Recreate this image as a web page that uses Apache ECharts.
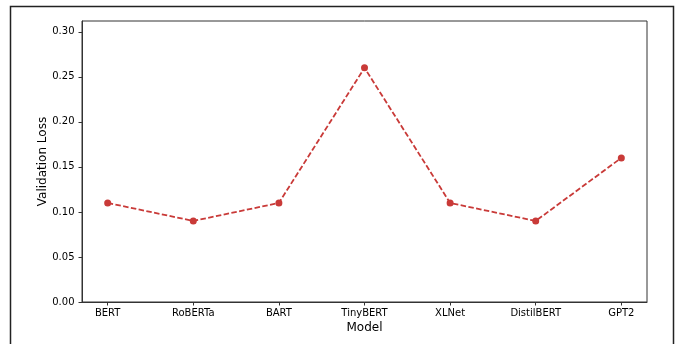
<!DOCTYPE html>
<html>
<head>
<meta charset="utf-8">
<script src="https://cdn.jsdelivr.net/npm/echarts@6/dist/echarts.min.js"></script>
<style>
html,body{margin:0;padding:0;background:#fff;}
#chart{width:678px;height:344px;}
</style>
</head>
<body>
<div id="chart"></div>
<script>
const categories = ['BERT', 'RoBERTa', 'BART', 'TinyBERT', 'XLNet', 'DistilBERT', 'GPT2'];
const validationLoss = [0.11, 0.09, 0.11, 0.26, 0.11, 0.09, 0.16];
const yTicks = [0, 0.05, 0.10, 0.15, 0.20, 0.25, 0.30];

const positions = categories.map((c, i) => i);
const data = validationLoss.map((v, i) => [i, v]);
const FONT = 'DejaVu Sans';
const axisColor = '#333';

const chart = echarts.init(document.getElementById('chart'), null, {renderer: 'canvas'});
chart.setOption({
  animation: false,
  backgroundColor: '#fff',
  textStyle: {fontFamily: FONT},
  graphic: [{
    type: 'rect',
    shape: {x: 10.5, y: 6.5, width: 663, height: 400},
    style: {fill: 'none', stroke: '#222', lineWidth: 1.5},
    silent: true, z: 100
  }],
  grid: {left: 82, top: 21, right: 31, bottom: 42, show: true, borderColor: axisColor, borderWidth: 1, backgroundColor: 'transparent'},
  xAxis: {
    type: 'value',
    min: -0.3, max: 6.3,
    name: 'Model',
    nameLocation: 'middle',
    nameGap: 19.5,
    nameMoveOverlap: false,
    nameTextStyle: {fontSize: 12, color: '#000', fontFamily: FONT},
    axisLine: {show: true, onZero: false, lineStyle: {color: axisColor}},
    axisTick: {show: true, length: 3.5, lineStyle: {color: axisColor}, customValues: positions},
    axisLabel: {customValues: positions, fontSize: 10, color: '#000', margin: 6, fontFamily: FONT,
      formatter: v => categories[Math.round(v)] || ''},
    splitLine: {show: false}
  },
  yAxis: {
    type: 'value',
    min: 0, max: 0.312,
    name: 'Validation Loss',
    nameLocation: 'middle',
    nameGap: 33,
    nameMoveOverlap: false,
    nameTextStyle: {fontSize: 12, color: '#000', fontFamily: FONT},
    axisLine: {show: true, onZero: false, lineStyle: {color: axisColor}},
    axisTick: {show: true, length: 3.5, lineStyle: {color: axisColor}, customValues: yTicks},
    axisLabel: {customValues: yTicks, fontSize: 10, color: '#000', margin: 7.5, fontFamily: FONT,
      formatter: v => v.toFixed(2)},
    splitLine: {show: false}
  },
  series: [{
    type: 'line',
    data: data,
    symbol: 'circle',
    symbolSize: 7,
    itemStyle: {color: '#c93a38'},
    lineStyle: {color: '#c93a38', width: 1.8, type: [5.5, 2.4]},
    z: 5
  }]
});
</script>
</body>
</html>
